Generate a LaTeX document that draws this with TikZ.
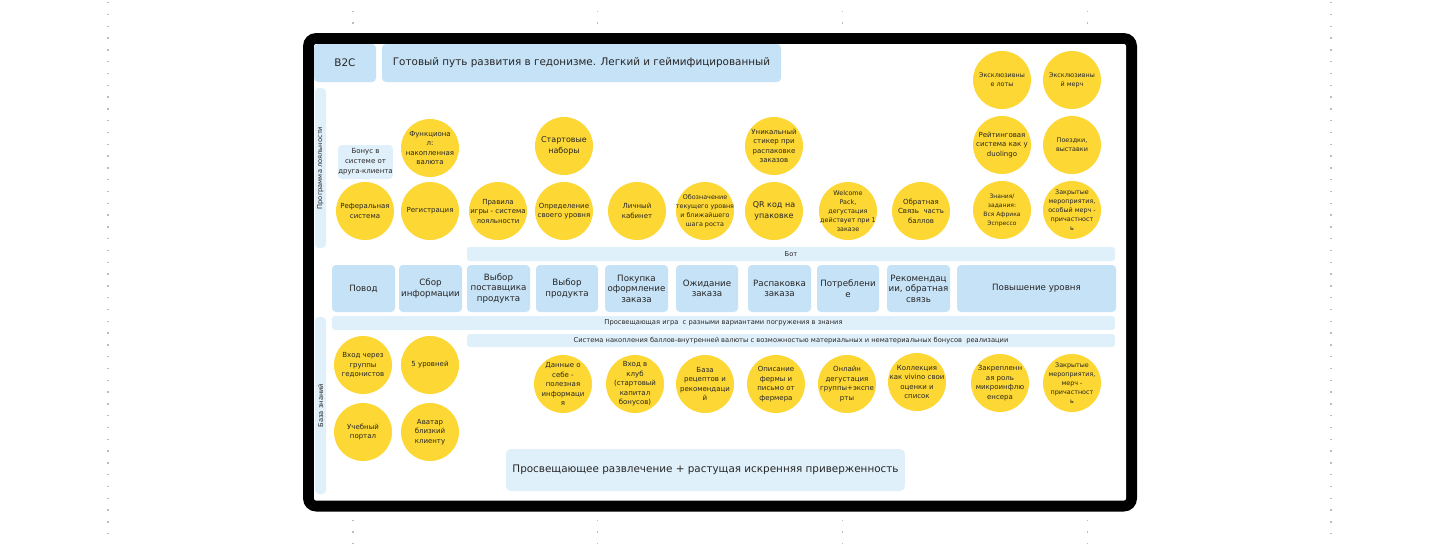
\documentclass[tikz,border=0pt]{standalone}
\usepackage{fontspec}
\setmainfont{DejaVu Sans}
\definecolor{yel}{HTML}{FDD733}
\definecolor{boxblue}{HTML}{C6E2F6}
\definecolor{barblue}{HTML}{E0F0FA}
\definecolor{txt}{HTML}{262626}
\definecolor{dotgray}{HTML}{BDBDBD}
\begin{document}
\begin{tikzpicture}[x=1pt,y=-1pt,
  every node/.style={text=txt, inner sep=0pt, outer sep=0pt, align=center},
  bub/.style={circle, fill=yel, inner sep=-30pt, minimum size=58pt, font=\fontsize{7}{9.5}\selectfont},
  bubs/.style={bub, font=\fontsize{6.4}{9}\selectfont},
  bubxs/.style={bub, font=\fontsize{6}{9}\selectfont},
  bubl/.style={bub, font=\fontsize{8}{11}\selectfont},
  procbox/.style={rectangle, rounded corners=4pt, fill=boxblue, minimum height=47pt, minimum width=63pt, font=\fontsize{8.7}{10.5}\selectfont},
  headbox/.style={rectangle, rounded corners=4pt, fill=boxblue, minimum height=38pt, font=\fontsize{10.4}{13}\selectfont},
  barbox/.style={rectangle, rounded corners=3pt, fill=barblue, minimum height=14pt, font=\fontsize{6.7}{8}\selectfont},
  strip/.style={rectangle, rounded corners=4pt, fill=barblue, minimum width=11pt},
  striplabel/.style={rotate=90, font=\fontsize{6.7}{8}\selectfont}
]
\useasboundingbox (0,0) rectangle (1440,544);
\fill[white] (0,0) rectangle (1440,544);

% background dotted guides
\foreach \k in {0,...,46} {
  \fill[dotgray] (107.4,{2+\k*11.8}) rectangle ++(1.3,1.3);
  \fill[dotgray] (1330.4,{2+\k*11.8}) rectangle ++(1.3,1.3);
}
\foreach \xx in {352.2,597,842,1086.6} {
  \foreach \yy in {10.5,22.3,519.5,531.3,543} {
    \fill[dotgray] (\xx,\yy) rectangle ++(1.3,1.3);
  }
}

% device frame
\fill[black, rounded corners=13pt] (303,33) rectangle (1137,511.5);
\fill[white, rounded corners=2pt] (314,44) rectangle (1126,500.5);

% header
\node[headbox, minimum width=62pt] (b2c) at (345,63) {B2C};
\node[headbox, minimum width=399pt] (title) at (581.5,63) {Готовый путь развития в гедонизме. Легкий и геймифицированный};

% side strips
\node[strip, minimum height=160pt] (prog) at (320.5,168) {};
\node[striplabel] (progl) at (prog.center) {Программа лояльности};
\node[strip, minimum height=177pt] (baza) at (320.5,405.5) {};
\node[striplabel] (bazal) at (baza.center) {База знаний};

% bonus box
\node[rectangle, rounded corners=4pt, fill=barblue, minimum width=55pt, minimum height=34pt, font=\fontsize{7}{10}\selectfont] (bonus) at (365.5,162) {Бонус в\\системе от\\друга-клиента};

% top circles
\node[bub] (func) at (430,148) {Функциона\\л:\\накопленная\\валюта};
\node[bubl] (start) at (564,146) {Стартовые\\наборы};
\node[bub] (stiker) at (774,146) {Уникальный\\стикер при\\распаковке\\заказов};
\node[bubs] (lots) at (1002,80) {Эксклюзивны\\е лоты};
\node[bubs] (merch) at (1072,80) {Эксклюзивны\\й мерч};
\node[bub] (rating) at (1002,145) {Рейтинговая\\система как у\\duolingo};
\node[bubs] (trips) at (1072,145) {Поездки,\\выставки};

% second row circles
\node[bub] (ref) at (365,211) {Реферальная\\система};
\node[bub] (reg) at (430,211) {Регистрация};
\node[bub] (rules) at (498,211) {Правила\\игры - система\\лояльности};
\node[bub] (opred) at (564,211) {Определение\\своего уровня};
\node[bub] (lk) at (637,211) {Личный\\кабинет};
\node[bubs] (oboz) at (705,211) {Обозначение\\текущего уровня\\и ближайшего\\шага роста};
\node[bubl] (qr) at (774,211) {QR код на\\упаковке};
\node[bubs] (welcome) at (848,211) {Welcome\\Pack,\\дегустация\\действует при 1\\заказе};
\node[bub] (feedback) at (921,211) {Обратная\\Связь\ \ часть\\баллов};
\node[bubxs] (znania) at (1002,210) {Знания/\\задания:\\Вся Африка\\Эспрессо};
\node[bubs] (closed1) at (1072,210) {Закрытые\\мероприятия,\\особый мерч -\\причастност\\ь};

% bot bar
\node[barbox, minimum width=648pt] (bot) at (791,254) {Бот};

% process row
\node[procbox] (povod) at (363.5,288.5) {Повод};
\node[procbox] (sbor) at (430.5,288.5) {Сбор\\информации};
\node[procbox] (postav) at (498.5,288.5) {Выбор\\поставщика\\продукта};
\node[procbox, minimum width=62pt] (produkt) at (567,288.5) {Выбор\\продукта};
\node[procbox] (pokupka) at (636.5,288.5) {Покупка\\оформление\\заказа};
\node[procbox, minimum width=62pt] (ozhid) at (707,288.5) {Ожидание\\заказа};
\node[procbox] (raspak) at (779.5,288.5) {Распаковка\\заказа};
\node[procbox, minimum width=62pt] (potreb) at (848,288.5) {Потреблени\\е};
\node[procbox] (rekom) at (918.5,288.5) {Рекомендац\\ии, обратная\\связь};
\node[procbox, minimum width=159pt] (povysh) at (1036.5,288.5) {Повышение уровня};

% lower bars
\node[barbox, minimum width=783pt] (igra) at (723.5,323) {Просвещающая игра\ \ с разными вариантами погружения в знания};
\node[barbox, minimum width=648pt, minimum height=13pt] (nakop) at (791,340.5) {Система накопления баллов-внутренней валюты с возможностью материальных и нематериальных бонусов\ \ реализации};

% knowledge circles
\node[bub] (vhod) at (363,365) {Вход через\\группы\\гедонистов};
\node[bub] (lvl5) at (430,365) {5 уровней};
\node[bub] (portal) at (363,432) {Учебный\\портал};
\node[bub] (avatar) at (430,432) {Аватар\\близкий\\клиенту};
\node[bub] (data) at (563,384) {Данные о\\себе -\\полезная\\информаци\\я};
\node[bub] (club) at (635,384) {Вход в\\клуб\\(стартовый\\капитал\\бонусов)};
\node[bub] (recipes) at (705,384) {База\\рецептов и\\рекомендаци\\й};
\node[bub] (farm) at (776,384) {Описание\\фермы и\\письмо от\\фермера};
\node[bub] (online) at (847,384) {Онлайн\\дегустация\\группы+экспе\\рты};
\node[bub] (collection) at (917,382) {Коллекция\\как vivino свои\\оценки и\\список};
\node[bub] (micro) at (1000,383) {Закрепленн\\ая роль\\микроинфлю\\енсера};
\node[bubs] (closed2) at (1072,383) {Закрытые\\мероприятия,\\мерч -\\причастност\\ь};

% bottom box
\node[rectangle, rounded corners=5pt, fill=barblue, minimum width=399pt, minimum height=42pt, font=\fontsize{10.4}{13}\selectfont] (final) at (705.5,470) {Просвещающее развлечение + растущая искренняя приверженность};
\end{tikzpicture}
\end{document}
